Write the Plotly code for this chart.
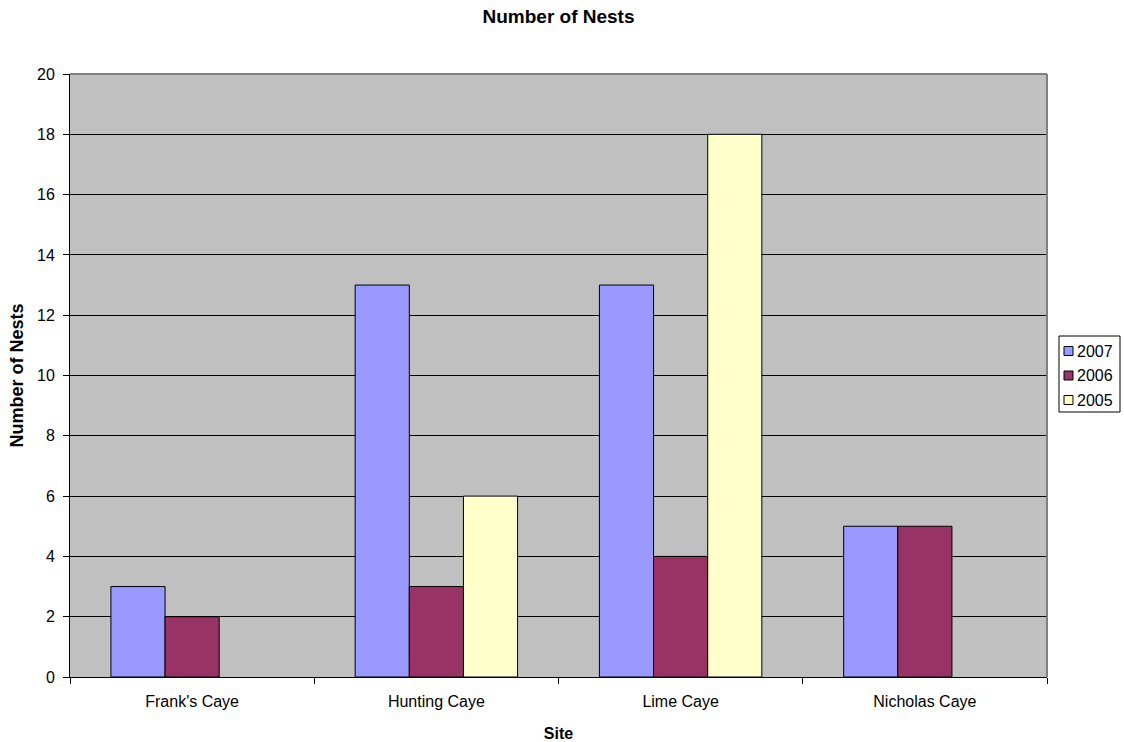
import plotly.graph_objects as go

sites = ["Frank's Caye", "Hunting Caye", "Lime Caye", "Nicholas Caye"]
nests_2007 = [3, 13, 13, 5]
nests_2006 = [2, 3, 4, 5]
nests_2005 = [None, 6, 18, None]

series = [
    ("2007", nests_2007, "#9999FF"),
    ("2006", nests_2006, "#993366"),
    ("2005", nests_2005, "#FFFFCC"),
]

W, H = 1124, 742
ML, MR, MT, MB = 70, 77, 74, 65
font = "Liberation Sans, Arial, sans-serif"

fig = go.Figure()
for name, vals, color in series:
    fig.add_trace(go.Bar(
        x=sites, y=vals, name=name,
        marker=dict(color=color, line=dict(color="black", width=1)),
    ))

fig.update_layout(
    width=W, height=H,
    margin=dict(l=ML, r=MR, t=MT, b=MB, autoexpand=False),
    paper_bgcolor="white",
    plot_bgcolor="#C0C0C0",
    barmode="group",
    bargap=0.335,
    bargroupgap=0,
    showlegend=False,
    font=dict(family=font, size=16, color="black"),
    title=dict(text="<b>Number of Nests</b>", x=0.5, xref="paper",
               y=1 - 16 / H, yref="container", yanchor="middle",
               font=dict(size=19, family=font)),
)
fig.update_xaxes(
    type="category",
    tickson="boundaries", ticks="outside", ticklen=6, tickcolor="black",
    ticklabelstandoff=10,
    showline=True, linecolor="black", linewidth=1,
    showgrid=False,
    tickfont=dict(size=16),
    title=dict(text="<b>Site</b>", font=dict(size=16), standoff=18),
)
fig.update_yaxes(
    range=[0, 20], dtick=2, tick0=0,
    ticks="outside", ticklen=6, tickcolor="black",
    ticklabelstandoff=5,
    showline=True, linecolor="black", linewidth=1,
    showgrid=True, gridcolor="black", gridwidth=1,
    zeroline=False,
    tickfont=dict(size=16),
    title=dict(text="<b>Number of Nests</b>", font=dict(size=18), standoff=8),
)

# gray frame on the top and right of the plotting area
fig.add_shape(type="line", xref="paper", yref="paper", x0=0, x1=1, y0=1, y1=1,
              line=dict(color="#808080", width=2))
fig.add_shape(type="line", xref="paper", yref="paper", x0=1, x1=1, y0=0, y1=1,
              line=dict(color="#808080", width=2))

# legend box with one swatch per series
pw, ph = W - ML - MR, H - MT - MB


def px_x(x):
    return (x - ML) / pw


def px_y(y):
    return (H - MB - y) / ph


box_l, box_r, box_t, box_b = 1059, 1120, 336, 412
fig.add_shape(type="rect", xref="paper", yref="paper",
              x0=px_x(box_l), x1=px_x(box_r), y0=px_y(box_b), y1=px_y(box_t),
              line=dict(color="black", width=1), fillcolor="white")
row_y = [351, 375.5, 400]
for (name, _, color), cy in zip(series, row_y):
    fig.add_shape(type="rect", xref="paper", yref="paper",
                  x0=px_x(1064), x1=px_x(1073), y0=px_y(cy + 4.5), y1=px_y(cy - 4.5),
                  line=dict(color="black", width=1), fillcolor=color)
    fig.add_annotation(xref="paper", yref="paper", x=px_x(1075), y=px_y(cy),
                       xanchor="left", yanchor="middle", showarrow=False,
                       text=name, font=dict(size=16, family=font))

fig.write_html("out.html")
